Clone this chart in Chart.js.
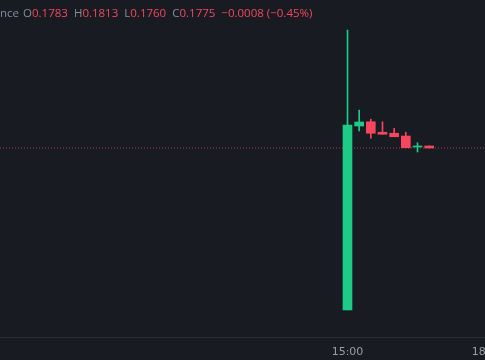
<!DOCTYPE html>
<html>
<head>
<meta charset="utf-8">
<script src="https://cdn.jsdelivr.net/npm/chart.js@4"></script>
<style>
  html, body { margin:0; padding:0; background:#181b22; overflow:hidden; }
  #wrap { position:relative; width:520px; height:360px; }
  #hdr { position:absolute; left:0; top:5px; font:11.5px "Open Sans", sans-serif; color:#848e9c; white-space:nowrap; z-index:2; }
  #hdr span.v { color:#f6465d; }
  #hdr span.g { margin-left:4px; }
  #hdr span.g + span.g { margin-left:6px; }
</style>
</head>
<body>
<div id="wrap">
  <div id="hdr">nce<span class="g">O<span class="v">0.1783</span></span><span class="g">H<span class="v">0.1813</span></span><span class="g">L<span class="v">0.1760</span></span><span class="g">C<span class="v">0.1775</span></span><span class="g v">−0.0008 (−0.45%)</span></div>
  <canvas id="grafico"></canvas>
</div>
<script>
// 15 min candles, times in minutes from midnight
var tiempos = [900, 915, 930, 945, 960, 975, 990, 1005];
var aperturas = [0.1127, 0.1863, 0.1880, 0.1838, 0.1834, 0.1823, 0.1779, 0.1783];
var maximos  = [0.2247, 0.1927, 0.1890, 0.1880, 0.1854, 0.1838, 0.1796, 0.1784];
var minimos  = [0.1127, 0.1843, 0.1814, 0.1830, 0.1820, 0.1776, 0.1759, 0.1775];
var cierres  = [0.1867, 0.1879, 0.1834, 0.1830, 0.1820, 0.1776, 0.1780, 0.1775];
var etiquetas_tiempo = [900, 1080];

var verde = "#1ecb86";
var rojo = "#f6465d";

function formato_hora(m){
  var h = Math.floor(m / 60);
  var mm = m % 60;
  return (h < 10 ? "0" + h : h) + ":" + (mm < 10 ? "0" + mm : mm);
}

var colores = [];
var cuerpos = [];
var mechas = [];
for (var i = 0; i < tiempos.length; i++){
  colores.push(cierres[i] >= aperturas[i] ? verde : rojo);
  cuerpos.push({x: tiempos[i], y: [aperturas[i], cierres[i]]});
  mechas.push({x: tiempos[i], y: [minimos[i], maximos[i]]});
}

var xmin = 453.2, xmax = 1121.8;
var ultimo = cierres[cierres.length - 1];

new Chart(document.getElementById("grafico"), {
  type: 'bar',
  data: {
    datasets: [
      {
        type: 'line',
        data: [{x: xmin, y: ultimo}, {x: xmax, y: ultimo}],
        borderColor: "rgba(246,70,93,0.7)",
        borderWidth: 1,
        borderDash: [1, 2],
        pointRadius: 0,
        order: 3
      },
      {
        data: mechas,
        backgroundColor: colores,
        barThickness: 1,
        grouped: false,
        minBarLength: 1,
        order: 2
      },
      {
        data: cuerpos,
        backgroundColor: colores,
        barThickness: 9,
        grouped: false,
        minBarLength: 1,
        order: 1
      }
    ]
  },
  options: {
    responsive: true,
    maintainAspectRatio: false,
    animation: false,
    layout: { padding: 0 },
    plugins: { legend: { display: false }, tooltip: { enabled: false } },
    scales: {
      x: {
        type: 'linear',
        min: xmin,
        max: xmax,
        offset: false,
        grid: { display: false, drawTicks: false },
        border: { color: "#2a2e35", width: 1 },
        ticks: {
          color: "#9a9ea6",
          font: { family: "DejaVu Sans", size: 11 },
          padding: 9,
          maxRotation: 0,
          autoSkip: false,
          callback: function(v){ return formato_hora(v); }
        },
        afterBuildTicks: function(scale){
          scale.ticks = etiquetas_tiempo.map(function(v){ return {value: v}; });
        },
        afterFit: function(scale){
          scale.height = 23;
          scale.paddingLeft = 0;
          scale.paddingRight = 0;
        }
      },
      y: {
        display: false,
        min: 0.1019,
        max: 0.2367
      }
    }
  }
});
</script>
</body>
</html>
